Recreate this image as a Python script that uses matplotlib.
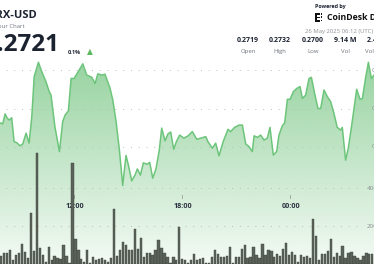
import numpy as np
import matplotlib
matplotlib.use("Agg")
import matplotlib.pyplot as plt
from matplotlib.patches import Rectangle

# ---------------- data ----------------
# price series: minutes after 25 May 00:00 (UTC) and price (USD)
price_minutes = [460, 470, 479, 487, 494, 501, 509, 517, 526, 537, 546, 557, 567, 576, 584, 598,
                 609, 623, 634, 640, 653, 668, 679, 687, 698, 707, 717, 731, 746, 759, 776, 787,
                 796, 809, 820, 837, 846, 857, 868, 879, 890, 898, 909, 920, 928, 938, 948, 960,
                 969, 979, 990, 1001, 1009, 1020, 1030, 1039, 1049, 1058, 1069, 1083, 1097, 1111,
                 1126, 1139, 1156, 1163, 1178, 1189, 1200, 1214, 1230, 1239, 1252, 1267, 1278, 1289,
                 1300, 1311, 1317, 1328, 1339, 1350, 1361, 1370, 1381, 1392, 1400, 1411, 1419, 1428,
                 1437, 1448, 1459, 1470, 1478, 1489, 1500, 1508, 1519, 1530, 1539, 1550, 1561, 1572,
                 1583, 1594, 1606, 1611, 1622, 1631, 1641, 1659, 1670, 1678, 1689, 1698, 1708, 1717, 1727]
price_values = [0.27157, 0.27163, 0.27160, 0.27186, 0.27175, 0.27170, 0.27176, 0.27114, 0.27111,
                0.27103, 0.27108, 0.27136, 0.27110, 0.27179, 0.27283, 0.27320, 0.27296, 0.27270,
                0.27244, 0.27235, 0.27153, 0.27088, 0.27166, 0.27183, 0.27194, 0.27278, 0.27278,
                0.27296, 0.27316, 0.27287, 0.27281, 0.27265, 0.27290, 0.27287, 0.27289, 0.27252,
                0.27222, 0.27166, 0.27092, 0.27000, 0.27078, 0.27053, 0.27012, 0.27027, 0.27043,
                0.27027, 0.27059, 0.27055, 0.27060, 0.27019, 0.27043, 0.27092, 0.27149, 0.27116,
                0.27134, 0.27139, 0.27094, 0.27114, 0.27131, 0.27123, 0.27129, 0.27140, 0.27120,
                0.27123, 0.27127, 0.27114, 0.27097, 0.27110, 0.27077, 0.27114, 0.27146, 0.27140,
                0.27151, 0.27157, 0.27157, 0.27108, 0.27101, 0.27088, 0.27129, 0.27125, 0.27131,
                0.27118, 0.27123, 0.27151, 0.27079, 0.27088, 0.27131, 0.27155, 0.27163, 0.27224,
                0.27224, 0.27244, 0.27252, 0.27257, 0.27226, 0.27235, 0.27278, 0.27281, 0.27238,
                0.27200, 0.27200, 0.27248, 0.27231, 0.27218, 0.27188, 0.27151, 0.27144, 0.27151,
                0.27066, 0.27097, 0.27149, 0.27250, 0.27224, 0.27226, 0.27281, 0.27320, 0.27278,
                0.27287, 0.27295]

# 10-minute volume bars (thousands of TRX), visible window
volume_k = [42, 56, 56, 74, 21, 47, 56, 105, 63, 32, 267, 68, 583, 83, 47, 12, 89, 21, 42, 30,
            25, 100, 42, 4, 532, 130, 74, 25, 12, 74, 7, 38, 21, 25, 30, 21, 12, 30, 288, 42,
            74, 117,
            100, 74, 74, 184, 77, 135, 38, 56, 56, 47, 74, 126, 83, 59, 35, 7, 35, 21, 193, 25,
            21, 7, 21, 53, 21, 28, 30, 7, 7, 38, 74, 53, 35, 35, 42, 88, 7, 35, 35, 77, 100, 30,
            35, 91, 47, 30, 105, 47, 74, 70, 38, 53, 42, 77, 109, 47, 65, 47, 12, 47, 38, 42,
            30, 235, 147, 21, 53, 53, 70, 130, 35, 56, 42, 95, 30, 56, 65, 42, 30, 21, 42, 56,
            53, 53]

time_ticks = [720, 1080, 1440]
time_labels = ["12:00", "18:00", "00:00"]
price_grid = [0.2730, 0.2720, 0.2710]
price_grid_labels = ["0.2730", "0.2720", "0.2710"]
volume_grid = [400, 200]
volume_grid_labels = ["400K", "200K"]

stat_values = ["0.2719", "0.2732", "0.2700", "9.14 M", "2.48 M"]
stat_labels = ["Open", "High", "Low", "Vol", "Vol (USD)"]

# ---------------- figure ----------------
W, H = 374, 264
fig = plt.figure(figsize=(W / 100, H / 100), dpi=100)
fig.patch.set_facecolor("white")
plt.rcParams["font.family"] = ["Open Sans", "DejaVu Sans"]

def P(x, y):
    return (x / W, 1 - y / H)

ax = fig.add_axes([0, 0, 1, 1])
ax.axis("off")
x0, x1 = 470, 470 + W * 60 / 18
y0, y1 = 0.2720 - 155.5 / 38500, 0.2720 + 108.5 / 38500
ax.set_xlim(x0, x1)
ax.set_ylim(y0, y1)

green = np.array([92, 186, 106]) / 255
# gradient fill under the price line
poly = ax.fill_between(price_minutes, price_values, y0, facecolor="none", edgecolor="none")
n = 256
alpha = np.linspace(0.07, 0.65, n)
grad = np.zeros((n, 2, 4))
grad[..., :3] = green
grad[..., 3] = alpha[:, None]
im = ax.imshow(grad, extent=[x0, x1, y0, 0.27335], origin="lower", aspect="auto",
               interpolation="bilinear", zorder=1)
im.set_clip_path(poly.get_paths()[0], transform=ax.transData)
ax.plot(price_minutes, price_values, color="#6dc57b", lw=1.1, zorder=3, solid_joinstyle="round")
ax.set_xlim(x0, x1)
ax.set_ylim(y0, y1)

grid_kw = dict(color="#b9bdb9", lw=0.7, linestyle=(0, (1, 7)), zorder=2)
gx_end = x0 + 360 * 60 / 18
for g, lab in zip(price_grid, price_grid_labels):
    ax.plot([x0 + 6 * 60 / 18, gx_end], [g, g], **grid_kw)
    ax.text(x0 + 372 * 60 / 18, g, lab, fontsize=4.5, color="#8a8f95", va="center", ha="left")

# volume axis
ax2 = ax.twinx()
ax2.axis("off")
ax2.set_ylim(0, H * 200 / 38)
bar_times = np.linspace(474, 1711, len(volume_k))
ax2.bar(bar_times, volume_k, width=7.6, color="#5b635a", edgecolor="#3c423c", linewidth=0.3,
        zorder=4)
for g, lab in zip(volume_grid, volume_grid_labels):
    ax2.plot([x0 + 6 * 60 / 18, gx_end], [g, g], **grid_kw)
    ax2.text(x0 + 367 * 60 / 18, g, lab, fontsize=4.5, color="#8a8f95", va="center", ha="left")
ax2.set_xlim(x0, x1)

# time labels + small tick marks
for t, lab in zip(time_ticks, time_labels):
    ax.text(t, 1 - 207 / H, lab, transform=ax.get_xaxis_transform(), fontsize=5.2,
            fontweight="bold", color="#2b3140", ha="center", va="center", zorder=6)
    ax.plot([t - 1.0 * 60 / 18, t - 1.0 * 60 / 18], [1 - 195 / H, 1 - 197.5 / H],
            transform=ax.get_xaxis_transform(), color="#9aa09a", lw=0.6, zorder=6)

# ---------------- header texts ----------------
dark = "#1b2230"
grey = "#6f747c"
fig.text(*P(37, 16), "TRX-USD", fontsize=8, fontweight="bold", color=dark, ha="right", va="center")
fig.text(*P(25, 27), "24 Hour Chart", fontsize=4.3, color=grey, ha="right", va="center")
fig.text(*P(60, 45), "$0.2721", fontsize=17.5, fontweight="bold", color=dark, ha="right",
         va="center")
fig.text(*P(68, 52.5), "0.1%", fontsize=4.0, fontweight="bold", color=dark, ha="left", va="center")
fig.text(*P(90, 52), "\u25B2", fontsize=5.5, color="#5cb85c", ha="center", va="center",
         family="DejaVu Sans")

fig.text(*P(315, 6.5), "Powered by", fontsize=3.9, fontweight="bold", color=dark, ha="left",
         va="center")
# simple CoinDesk mark
for (rx, ry, rw, rh) in [(315, 13.5, 1.6, 8), (315, 13.5, 5, 1.5), (315, 17, 4, 1.4),
                         (315, 20.3, 5, 1.4), (321, 13.5, 1.2, 1.2), (321, 16.5, 1.2, 1.2),
                         (321, 19.8, 1.2, 1.2), (318.5, 16.9, 1.0, 1.0)]:
    fig.add_artist(Rectangle((rx / W, 1 - (ry + rh) / H), rw / W, rh / H,
                             transform=fig.transFigure, color="#111111", lw=0))
fig.text(*P(327, 18), "CoinDesk Data", fontsize=6.3, fontweight="bold", color="#111111",
         ha="left", va="center")
fig.text(*P(305, 31.5), "26 May 2025 06:12 (UTC)", fontsize=4.3, color="#8c9096", ha="left",
         va="center")

centers = [248, 280, 313, 345, 378]
for cx, v, lab in zip(centers, stat_values, stat_labels):
    fig.text(*P(cx, 41), v, fontsize=5.0, fontweight="bold", color=dark, ha="center", va="center")
    fig.text(*P(cx, 51.5), lab, fontsize=4.3, color=grey, ha="center", va="center")

fig.savefig("out.png", dpi=100, facecolor="white")
